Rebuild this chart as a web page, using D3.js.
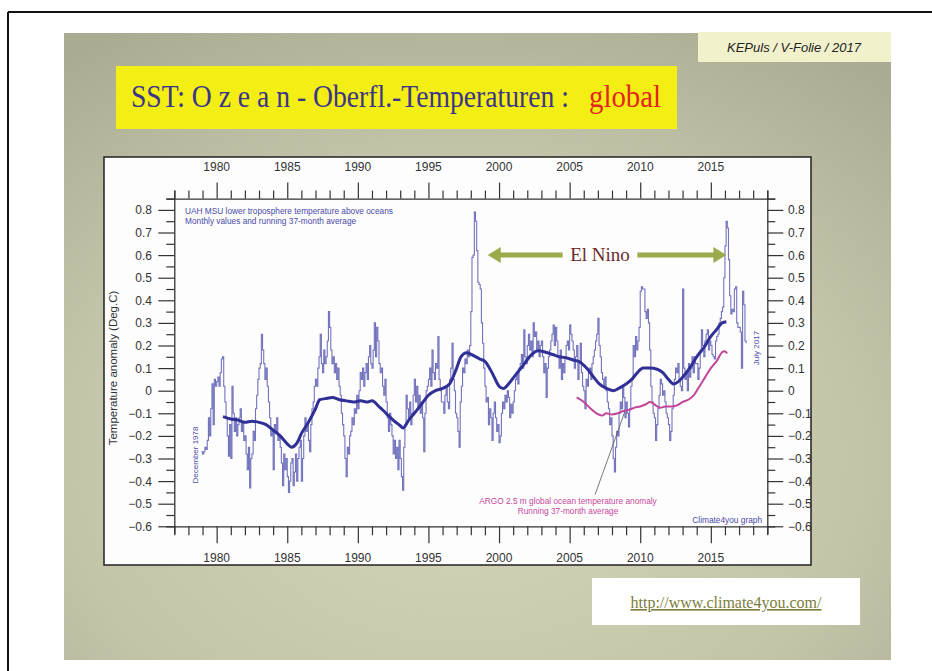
<!DOCTYPE html>
<html>
<head>
<meta charset="utf-8">
<script src="https://cdn.jsdelivr.net/npm/d3@7"></script>
<style>
html, body { margin: 0; padding: 0; background: #fff; overflow: hidden; }
</style>
</head>
<body>
<script>
//Width and height
var w = 932;
var h = 671;

// UAH MSU lower troposphere over oceans, monthly, Dec 1978 .. Jul 2017
var uahStart = 1978 + 11 / 12;
var uahMonthly = [
  -0.27,
  -0.28, -0.27, -0.25, -0.26, -0.22, -0.12, -0.20, -0.08, 0.03, -0.15, 0.05, 0.02,   // 1979
  0.04, 0.06, 0.02, 0.08, 0.14, 0.15, 0.02, -0.05, -0.12, -0.20, -0.29, -0.15,        // 1980
  -0.30, 0.02, -0.10, -0.18, -0.12, -0.20, -0.15, -0.12, -0.08, -0.18, -0.14, -0.22,  // 1981
  -0.20, -0.28, -0.35, -0.25, -0.43, -0.30, -0.28, -0.18, -0.22, -0.08, -0.02, 0.05,  // 1982
  0.10, 0.12, 0.25, 0.18, 0.12, 0.05, 0.10, 0.02, -0.05, -0.12, -0.20, -0.18,         // 1983
  -0.35, -0.15, -0.18, -0.12, -0.22, -0.20, -0.25, -0.32, -0.42, -0.28, -0.35, -0.30, // 1984
  -0.38, -0.45, -0.40, -0.32, -0.30, -0.42, -0.36, -0.28, -0.40, -0.30, -0.25, -0.22, // 1985
  -0.40, -0.30, -0.20, -0.12, -0.18, -0.15, -0.22, -0.27, -0.15, -0.08, -0.05, 0.02,  // 1986
  0.05, 0.02, 0.10, 0.15, 0.25, 0.12, 0.08, 0.18, 0.12, 0.15, 0.22, 0.35,             // 1987
  0.28, 0.18, 0.12, 0.15, 0.08, 0.12, 0.05, 0.10, 0.02, -0.02, -0.10, -0.15,          // 1988
  -0.20, -0.30, -0.38, -0.25, -0.28, -0.20, -0.18, -0.12, -0.15, -0.08, -0.10, -0.02, // 1989
  -0.08, 0.00, 0.08, 0.05, 0.10, 0.02, 0.08, 0.12, 0.05, 0.15, 0.20, 0.12,            // 1990
  0.10, 0.18, 0.30, 0.15, 0.28, 0.22, 0.12, 0.08, 0.10, 0.02, -0.02, 0.05,            // 1991
  -0.05, -0.12, -0.18, -0.10, -0.15, -0.20, -0.28, -0.22, -0.30, -0.25, -0.35, -0.22, // 1992
  -0.30, -0.38, -0.44, -0.25, -0.15, -0.02, -0.08, -0.12, -0.05, -0.15, -0.10, -0.02, // 1993
  0.05, -0.05, 0.02, -0.08, -0.02, -0.10, -0.05, -0.12, -0.27, -0.10, 0.00, 0.02,     // 1994
  0.05, 0.10, 0.02, 0.18, 0.08, 0.05, 0.12, 0.10, 0.24, 0.05, 0.00, -0.05,            // 1995
  -0.05, -0.10, -0.02, 0.02, -0.05, -0.08, 0.05, 0.10, 0.21, 0.05, 0.00, -0.10,       // 1996
  -0.12, -0.18, -0.25, -0.05, 0.02, 0.10, 0.08, 0.14, 0.12, 0.18, 0.15, 0.20,         // 1997
  0.35, 0.59, 0.60, 0.79, 0.75, 0.62, 0.48, 0.47, 0.45, 0.30, 0.21, 0.10,             // 1998
  0.02, -0.05, -0.03, -0.15, -0.08, -0.12, -0.22, -0.10, -0.05, -0.12, -0.18, -0.15,  // 1999
  -0.23, -0.20, -0.10, -0.05, -0.08, -0.02, -0.05, 0.00, -0.03, -0.12, -0.06, -0.10,  // 2000
  -0.05, 0.00, 0.05, 0.08, 0.03, 0.10, 0.12, 0.16, 0.10, 0.27, 0.15, 0.12,            // 2001
  0.20, 0.25, 0.18, 0.22, 0.15, 0.30, 0.24, 0.26, 0.18, 0.22, 0.15, 0.20,             // 2002
  0.22, 0.15, 0.08, 0.12, -0.03, 0.10, 0.15, 0.18, 0.22, 0.25, 0.29, 0.20,            // 2003
  0.28, 0.22, 0.15, 0.10, 0.18, 0.05, 0.12, 0.08, 0.15, 0.20, 0.22, 0.18,             // 2004
  0.29, 0.25, 0.22, 0.18, 0.10, 0.15, 0.20, 0.05, 0.12, 0.21, 0.08, 0.02,             // 2005
  0.00, -0.08, 0.05, 0.02, 0.08, 0.10, 0.05, 0.12, 0.15, 0.18, 0.22, 0.25,            // 2006
  0.32, 0.20, 0.15, 0.08, 0.05, 0.02, 0.06, 0.00, -0.05, -0.08, -0.15, -0.12,         // 2007
  -0.20, -0.30, -0.36, -0.25, -0.18, -0.20, -0.10, -0.05, -0.08, 0.02, -0.03, -0.12,  // 2008
  -0.05, -0.10, -0.16, -0.08, 0.02, 0.05, 0.20, 0.15, 0.24, 0.18, 0.22, 0.28,         // 2009
  0.44, 0.46, 0.45, 0.45, 0.35, 0.32, 0.36, 0.30, 0.18, 0.02, -0.05, -0.10,           // 2010
  -0.12, -0.22, -0.15, -0.08, -0.02, 0.05, 0.03, -0.02, 0.00, -0.05, -0.10, -0.12,    // 2011
  -0.15, -0.22, -0.18, -0.08, -0.02, 0.05, 0.10, 0.08, 0.12, 0.05, 0.02, 0.00,        // 2012
  0.45, 0.10, 0.05, 0.08, 0.00, 0.12, 0.06, 0.10, 0.15, 0.08, 0.15, 0.12,             // 2013
  0.12, 0.05, 0.10, 0.18, 0.27, 0.20, 0.15, 0.22, 0.25, 0.27, 0.18, 0.22,             // 2014
  0.20, 0.16, 0.15, 0.14, 0.22, 0.24, 0.25, 0.30, 0.32, 0.35, 0.37, 0.50,             // 2015
  0.64, 0.75, 0.72, 0.58, 0.42, 0.34, 0.36, 0.35, 0.45, 0.46, 0.30, 0.28,             // 2016
  0.28, 0.26, 0.10, 0.44, 0.38, 0.22, 0.21                                             // 2017
];

// running 37-month average (thick blue)
var meanYears = [1980.45, 1981.0, 1981.5, 1982.0, 1982.5, 1983.0, 1983.5, 1984.0, 1984.5, 1985.0,
  1985.3, 1985.7, 1986.0, 1986.5, 1987.0, 1987.3, 1987.7, 1988.2, 1988.7, 1989.2,
  1989.7, 1990.2, 1990.7, 1991.0, 1991.5, 1992.0, 1992.5, 1993.0, 1993.2, 1993.6,
  1994.0, 1994.5, 1995.0, 1995.5, 1996.0, 1996.5, 1997.0, 1997.3, 1997.7, 1998.2,
  1998.65, 1999.0, 1999.5, 2000.0, 2000.3, 2000.8, 2001.3, 2001.8, 2002.3, 2002.8,
  2003.3, 2003.8, 2004.3, 2004.8, 2005.3, 2005.7, 2006.2, 2006.7, 2007.1, 2007.6,
  2008.1, 2008.6, 2009.0, 2009.4, 2009.8, 2010.2, 2010.7, 2011.2, 2011.6, 2012.0,
  2012.35, 2012.7, 2013.0, 2013.5, 2014.0, 2014.5, 2015.0, 2015.4, 2015.8, 2016.1];
var meanValues = [-0.115, -0.125, -0.13, -0.14, -0.135, -0.14, -0.15, -0.175, -0.20, -0.235,
  -0.25, -0.23, -0.19, -0.14, -0.08, -0.04, -0.035, -0.03, -0.04, -0.045,
  -0.05, -0.045, -0.05, -0.045, -0.07, -0.10, -0.13, -0.155, -0.165, -0.13,
  -0.10, -0.06, -0.02, 0.0, 0.01, 0.03, 0.10, 0.15, 0.168, 0.155,
  0.14, 0.13, 0.08, 0.02, 0.01, 0.04, 0.08, 0.12, 0.16, 0.177,
  0.17, 0.16, 0.15, 0.145, 0.135, 0.128, 0.10, 0.06, 0.03, 0.01,
  0.0, 0.015, 0.03, 0.05, 0.08, 0.10, 0.10, 0.095, 0.08, 0.05,
  0.03, 0.04, 0.06, 0.10, 0.15, 0.19, 0.24, 0.27, 0.30, 0.305];

// ARGO 2.5 m global ocean temperature anomaly, running 37-month average
var argoYears = [2005.5, 2006.0, 2006.5, 2006.9, 2007.3, 2007.6, 2008.0, 2008.4, 2008.8, 2009.2,
  2009.6, 2010.0, 2010.4, 2010.7, 2011.0, 2011.4, 2011.8, 2012.2, 2012.6, 2013.0,
  2013.4, 2013.8, 2014.2, 2014.6, 2015.0, 2015.4, 2015.8, 2016.0, 2016.15];
var argoValues = [-0.03, -0.05, -0.08, -0.10, -0.11, -0.10, -0.105, -0.10, -0.09, -0.085,
  -0.075, -0.07, -0.06, -0.05, -0.06, -0.075, -0.07, -0.07, -0.065, -0.05,
  -0.04, -0.02, 0.02, 0.06, 0.10, 0.13, 0.17, 0.175, 0.165];

var yearTicks = d3.range(1977, 2020);
var yearLabels = [1980, 1985, 1990, 1995, 2000, 2005, 2010, 2015];
var tempTicks = d3.range(-12, 18).map(function(d) { return d / 20; });   // every 0.05
var tempLabels = [0.8, 0.7, 0.6, 0.5, 0.4, 0.3, 0.2, 0.1, 0, -0.1, -0.2, -0.3, -0.4, -0.5, -0.6];

//Create SVG element
var svg = d3.select("body")
            .append("svg")
            .attr("width", w)
            .attr("height", h)
            .style("display", "block");

var defs = svg.append("defs");
var grad = defs.append("radialGradient")
    .attr("id", "slideBg")
    .attr("cx", "48%").attr("cy", "68%").attr("r", "80%");
grad.append("stop").attr("offset", "0%").attr("stop-color", "#d5d6b9");
grad.append("stop").attr("offset", "60%").attr("stop-color", "#c3c4a8");
grad.append("stop").attr("offset", "100%").attr("stop-color", "#aaab92");

// page frame
svg.append("line").attr("x1", 8).attr("y1", 12).attr("x2", w).attr("y2", 12)
   .attr("stroke", "#111").attr("stroke-width", 2);
svg.append("line").attr("x1", 8).attr("y1", 12).attr("x2", 8).attr("y2", h)
   .attr("stroke", "#111").attr("stroke-width", 2);

// slide
svg.append("rect").attr("x", 64).attr("y", 33).attr("width", 827).attr("height", 627)
   .attr("fill", "url(#slideBg)");

// KEPuls tag
svg.append("rect").attr("x", 698).attr("y", 32).attr("width", 193).attr("height", 30)
   .attr("fill", "#f1f1cc");
svg.append("text").attr("x", 794).attr("y", 52)
   .attr("text-anchor", "middle")
   .attr("font-family", "Liberation Sans, Arial, sans-serif")
   .attr("font-style", "italic")
   .attr("font-size", "13px")
   .attr("fill", "#222")
   .text("KEPuls / V-Folie / 2017");

// title box
svg.append("rect").attr("x", 116).attr("y", 66).attr("width", 561).attr("height", 63)
   .attr("fill", "#f3ee14");

// title pieces, squeezed horizontally to the condensed look of the slide font
function squeezedText(str, x, y, width, color) {
  var t = svg.append("text")
     .attr("font-family", "Liberation Serif, Times New Roman, serif")
     .attr("font-size", "31px")
     .attr("fill", color)
     .text(str);
  var natural = t.node().getComputedTextLength();
  t.attr("transform", "translate(" + x + "," + y + ") scale(" + (width / natural) + ",1)");
}
squeezedText("SST: O z e a n - Oberfl.-Temperaturen :", 131, 107, 438, "#3b3588");
squeezedText("global", 589, 107, 72, "#e3261d");

// chart panel
svg.append("rect").attr("x", 104).attr("y", 157).attr("width", 707).attr("height", 408)
   .attr("fill", "#fdfdfe").attr("stroke", "#222").attr("stroke-width", 1.5);

// url box
svg.append("rect").attr("x", 592).attr("y", 578).attr("width", 268).attr("height", 47)
   .attr("fill", "#ffffff");
svg.append("text").attr("x", 726).attr("y", 608)
   .attr("text-anchor", "middle")
   .attr("font-family", "Liberation Serif, Times New Roman, serif")
   .attr("font-size", "16px")
   .attr("fill", "#7b7d3c")
   .attr("text-decoration", "underline")
   .text("http://www.climate4you.com/");

// scales
var xScale = d3.scaleLinear().domain([1977, 2019]).range([174.3, 767.3]);
var yScale = d3.scaleLinear().domain([-0.6, 0.85]).range([526.3, 198.6]);

var axisFont = "Liberation Sans, Arial, sans-serif";
var tickColor = "#333";

function isMajorYear(d) { return d % 5 === 0; }
function isMajorTemp(d) { return Math.abs(Math.round(d * 10) - d * 10) < 1e-6; }

// top axis
var topAxis = d3.axisTop(xScale)
    .tickValues(yearTicks)
    .tickSize(8)
    .tickFormat(function(d) { return ""; });
var gTop = svg.append("g").attr("transform", "translate(0," + yScale(0.85) + ")").call(topAxis);
gTop.selectAll(".tick line").attr("y2", function(d) { return isMajorYear(d) ? -16 : -8; });

// bottom axis
var bottomAxis = d3.axisBottom(xScale)
    .tickValues(yearTicks)
    .tickSize(8)
    .tickFormat(function(d) { return ""; });
var gBottom = svg.append("g").attr("transform", "translate(0," + yScale(-0.6) + ")").call(bottomAxis);
gBottom.selectAll(".tick line").attr("y2", function(d) { return isMajorYear(d) ? 17 : 9; });

// left axis
var leftAxis = d3.axisLeft(yScale)
    .tickValues(tempTicks)
    .tickSize(8)
    .tickFormat(function(d) { return ""; });
var gLeft = svg.append("g").attr("transform", "translate(" + xScale(1977) + ",0)").call(leftAxis);
gLeft.selectAll(".tick line").attr("x2", function(d) { return isMajorTemp(d) ? -16 : -8; });

// right axis
var rightAxis = d3.axisRight(yScale)
    .tickValues(tempTicks)
    .tickSize(8)
    .tickFormat(function(d) { return ""; });
var gRight = svg.append("g").attr("transform", "translate(" + xScale(2019) + ",0)").call(rightAxis);
gRight.selectAll(".tick line").attr("x2", function(d) { return isMajorTemp(d) ? 16 : 8; });

[gTop, gBottom, gLeft, gRight].forEach(function(g) {
  g.select(".domain").attr("stroke", tickColor).attr("stroke-width", 1.3);
  g.selectAll(".tick line").attr("stroke", tickColor).attr("stroke-width", 1.2);
});

// year labels
svg.selectAll("text.ytop")
   .data(yearLabels)
   .enter()
   .append("text")
   .attr("class", "ytop")
   .attr("x", function(d) { return xScale(d); })
   .attr("y", 171)
   .attr("text-anchor", "middle")
   .attr("font-family", axisFont)
   .attr("font-size", "12px")
   .attr("fill", "#333")
   .text(function(d) { return d; });

svg.selectAll("text.ybot")
   .data(yearLabels)
   .enter()
   .append("text")
   .attr("class", "ybot")
   .attr("x", function(d) { return xScale(d); })
   .attr("y", 562)
   .attr("text-anchor", "middle")
   .attr("font-family", axisFont)
   .attr("font-size", "12px")
   .attr("fill", "#333")
   .text(function(d) { return d; });

// temperature labels
function tempFmt(d) { return d === 0 ? "0" : d3.format(".1f")(d); }
svg.selectAll("text.tleft")
   .data(tempLabels)
   .enter()
   .append("text")
   .attr("class", "tleft")
   .attr("x", 152)
   .attr("y", function(d) { return yScale(d) + 4.5; })
   .attr("text-anchor", "end")
   .attr("font-family", axisFont)
   .attr("font-size", "12px")
   .attr("fill", "#333")
   .text(tempFmt);

svg.selectAll("text.tright")
   .data(tempLabels)
   .enter()
   .append("text")
   .attr("class", "tright")
   .attr("x", 788)
   .attr("y", function(d) { return yScale(d) + 4.5; })
   .attr("text-anchor", "start")
   .attr("font-family", axisFont)
   .attr("font-size", "12px")
   .attr("fill", "#333")
   .text(tempFmt);

// axis title
svg.append("text")
   .attr("transform", "translate(117,368) rotate(-90)")
   .attr("text-anchor", "middle")
   .attr("font-family", axisFont)
   .attr("font-size", "11.5px")
   .attr("fill", "#333")
   .text("Temperature anomaly (Deg.C)");

// monthly values (step line)
var monthly = uahMonthly.map(function(v, i) { return { t: uahStart + i / 12, v: v }; });
var stepLine = d3.line()
    .x(function(d) { return xScale(d.t); })
    .y(function(d) { return yScale(d.v); })
    .curve(d3.curveStepAfter);
svg.append("path")
   .datum(monthly)
   .attr("d", stepLine)
   .attr("fill", "none")
   .attr("stroke", "#6464b6")
   .attr("stroke-width", 1.1)
   .attr("stroke-opacity", 0.9);

// running average
var smoothLine = d3.line()
    .x(function(d) { return xScale(d[0]); })
    .y(function(d) { return yScale(d[1]); })
    .curve(d3.curveMonotoneX);
svg.append("path")
   .datum(d3.zip(meanYears, meanValues))
   .attr("d", smoothLine)
   .attr("fill", "none")
   .attr("stroke", "#2f2f96")
   .attr("stroke-width", 3)
   .attr("stroke-linejoin", "round");

// ARGO
svg.append("path")
   .datum(d3.zip(argoYears, argoValues))
   .attr("d", smoothLine)
   .attr("fill", "none")
   .attr("stroke", "#c2459a")
   .attr("stroke-width", 2);

// ARGO pointer
svg.append("line")
   .attr("x1", xScale(2006.8)).attr("y1", yScale(-0.46))
   .attr("x2", xScale(2008.9)).attr("y2", yScale(-0.095))
   .attr("stroke", "#555").attr("stroke-width", 0.8);

// small texts
var smallFont = "Liberation Sans, Arial, sans-serif";
svg.append("text").attr("x", 185).attr("y", 214)
   .attr("font-family", smallFont).attr("font-size", "8.3px").attr("fill", "#4a4aa8")
   .text("UAH MSU lower troposphere temperature above oceans");
svg.append("text").attr("x", 185).attr("y", 224)
   .attr("font-family", smallFont).attr("font-size", "8.3px").attr("fill", "#4a4aa8")
   .text("Monthly values and running 37-month average");
svg.append("text").attr("x", 568).attr("y", 504)
   .attr("text-anchor", "middle")
   .attr("font-family", smallFont).attr("font-size", "8.3px").attr("fill", "#c6489c")
   .text("ARGO 2.5 m global ocean temperature anomaly");
svg.append("text").attr("x", 568).attr("y", 514)
   .attr("text-anchor", "middle")
   .attr("font-family", smallFont).attr("font-size", "8.3px").attr("fill", "#c6489c")
   .text("Running 37-month average");
svg.append("text").attr("x", 762).attr("y", 523)
   .attr("text-anchor", "end")
   .attr("font-family", smallFont).attr("font-size", "8.3px").attr("fill", "#4a4aa8")
   .text("Climate4you graph");
svg.append("text")
   .attr("transform", "translate(198," + 455 + ") rotate(-90)")
   .attr("text-anchor", "middle")
   .attr("font-family", smallFont).attr("font-size", "8px").attr("fill", "#4a4aa8")
   .text("December 1978");
svg.append("text")
   .attr("transform", "translate(759," + 348 + ") rotate(-90)")
   .attr("text-anchor", "middle")
   .attr("font-family", smallFont).attr("font-size", "8px").attr("fill", "#4a4aa8")
   .text("July 2017");

// El Nino annotation
var arrowColor = "#9aab4c";
var arrowY = yScale(0.6);
function arrow(xFrom, xTo) {
  var dir = xTo > xFrom ? 1 : -1;
  svg.append("line")
     .attr("x1", xFrom).attr("y1", arrowY)
     .attr("x2", xTo - dir * 9).attr("y2", arrowY)
     .attr("stroke", arrowColor).attr("stroke-width", 5);
  svg.append("path")
     .attr("d", "M" + xTo + "," + arrowY +
                "L" + (xTo - dir * 13) + "," + (arrowY - 8) +
                "L" + (xTo - dir * 13) + "," + (arrowY + 8) + "Z")
     .attr("fill", arrowColor);
}
arrow(xScale(2004.5), xScale(1999.2));
arrow(xScale(2009.8), xScale(2016.1));
svg.append("text")
   .attr("x", xScale(2007.15)).attr("y", arrowY + 6)
   .attr("text-anchor", "middle")
   .attr("font-family", "Liberation Serif, Times New Roman, serif")
   .attr("font-size", "19px")
   .attr("fill", "#6b2b2b")
   .text("El Nino");
</script>
</body>
</html>
